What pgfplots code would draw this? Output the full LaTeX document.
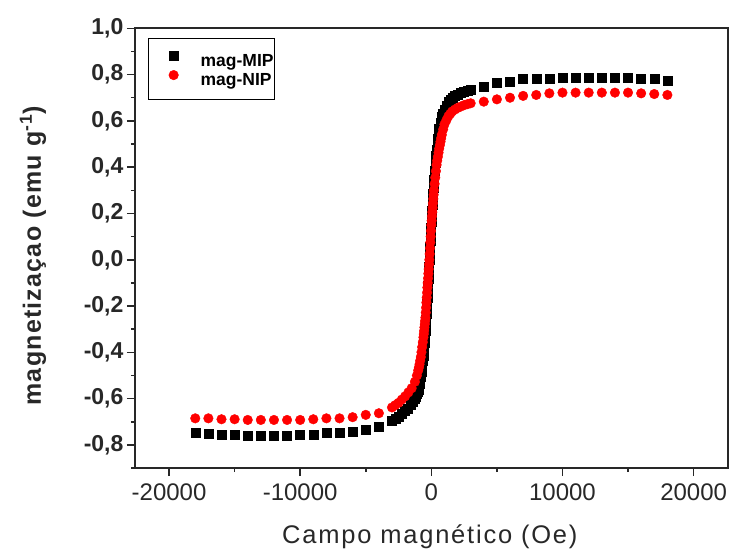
\documentclass[border=0pt]{standalone}
\usepackage{pgfplots}
\pgfplotsset{compat=1.18}
\usepackage{pgfplotstable}
\usepackage{fontspec}
\setmainfont{Liberation Sans}
\definecolor{axgray}{RGB}{40,40,40}

\pgfplotstableread{
H M
-18000 -0.749
-17000 -0.753
-16000 -0.757
-15000 -0.757
-14000 -0.761
-13000 -0.761
-12000 -0.761
-11000 -0.761
-10000 -0.757
-9000 -0.754
-8000 -0.749
-7000 -0.747
-6000 -0.743
-5000 -0.732
-4000 -0.721
-3000 -0.696
-2750 -0.687
-2500 -0.678
-2250 -0.667
-2000 -0.654
-1800 -0.642
-1600 -0.628
-1450 -0.615
-1300 -0.601
-1200 -0.590
-1100 -0.578
-1050 -0.569
-1000 -0.560
-950 -0.548
-900 -0.535
-850 -0.520
-800 -0.505
-750 -0.483
-700 -0.460
-650 -0.438
-600 -0.415
-575 -0.397
-550 -0.378
-525 -0.360
-500 -0.342
-475 -0.323
-450 -0.305
-425 -0.282
-400 -0.258
-375 -0.235
-350 -0.212
-325 -0.188
-300 -0.165
-275 -0.138
-250 -0.110
-225 -0.083
-200 -0.055
-175 -0.028
-150 0.000
-125 0.028
-100 0.055
-75 0.083
-50 0.110
-25 0.138
0 0.165
25 0.189
50 0.213
75 0.238
100 0.262
125 0.286
150 0.310
175 0.328
200 0.347
250 0.383
300 0.420
350 0.448
400 0.477
450 0.505
500 0.525
550 0.545
600 0.565
700 0.592
800 0.618
900 0.633
1000 0.650
1150 0.666
1300 0.681
1450 0.692
1600 0.702
1800 0.709
2000 0.715
2250 0.722
2500 0.728
2750 0.732
3000 0.736
4000 0.748
5000 0.765
6000 0.769
7000 0.781
8000 0.781
9000 0.781
10000 0.787
11000 0.787
12000 0.787
13000 0.787
14000 0.787
15000 0.787
16000 0.781
17000 0.781
18000 0.772
}\mip

\pgfplotstableread{
H M
-18000 -0.685
-17000 -0.685
-16000 -0.689
-15000 -0.689
-14000 -0.692
-13000 -0.692
-12000 -0.692
-11000 -0.692
-10000 -0.692
-9000 -0.689
-8000 -0.685
-7000 -0.685
-6000 -0.680
-5000 -0.670
-4000 -0.663
-3000 -0.638
-2750 -0.628
-2500 -0.618
-2250 -0.604
-2000 -0.590
-1750 -0.573
-1500 -0.555
-1250 -0.527
-1100 -0.500
-1000 -0.478
-950 -0.466
-900 -0.452
-850 -0.436
-800 -0.420
-750 -0.399
-700 -0.377
-650 -0.356
-600 -0.335
-575 -0.321
-550 -0.307
-525 -0.292
-500 -0.278
-475 -0.264
-450 -0.250
-425 -0.228
-400 -0.207
-375 -0.185
-350 -0.163
-325 -0.142
-300 -0.120
-275 -0.100
-250 -0.080
-225 -0.060
-200 -0.040
-175 -0.020
-150 0.000
-125 0.025
-100 0.050
-75 0.075
-50 0.100
-25 0.125
0 0.150
25 0.169
50 0.188
75 0.206
100 0.225
125 0.244
150 0.263
175 0.281
200 0.300
250 0.328
300 0.355
350 0.383
400 0.410
450 0.428
500 0.445
550 0.463
600 0.480
650 0.495
700 0.510
750 0.525
800 0.540
900 0.563
1000 0.585
1150 0.603
1300 0.620
1450 0.631
1600 0.641
1800 0.649
2000 0.656
2250 0.662
2500 0.668
2750 0.672
3000 0.676
4000 0.683
5000 0.693
6000 0.700
7000 0.708
8000 0.712
9000 0.719
10000 0.722
11000 0.722
12000 0.722
13000 0.722
14000 0.722
15000 0.722
16000 0.719
17000 0.716
18000 0.712
}\nip

\begin{document}
\begin{tikzpicture}
\begin{axis}[
  scale only axis,
  width=593pt, height=440pt,
  xmin=-22600, xmax=22600, ymin=-0.9, ymax=1.0,
  axis line style={line width=2pt, draw=axgray},
  tick pos=left, tick align=outside,
  xtick={-20000,-10000,0,10000,20000},
  minor xtick={-15000,-5000,5000,15000},
  ytick={-0.8,-0.6,-0.4,-0.2,0,0.2,0.4,0.6,0.8,1.0},
  minor ytick={-0.9,-0.7,-0.5,-0.3,-0.1,0.1,0.3,0.5,0.7,0.9},
  major tick length=8pt, minor tick length=4pt,
  every tick/.append style={line width=1.5pt, draw=axgray},
  scaled x ticks=false, scaled y ticks=false,
  /pgf/number format/assume math mode=true,
  xticklabel style={font=\fontsize{24}{28}\selectfont, text=axgray, yshift=-4pt, /pgf/number format/.cd, 1000 sep={}},
  yticklabel style={font=\bfseries\fontsize{23}{28}\selectfont, text=axgray, /pgf/number format/.cd, fixed, fixed zerofill, precision=1, use comma},
  xlabel={Campo magnético (Oe)},
  xlabel style={at={(axis description cs:0.4975,-0.156)}, anchor=center, text=axgray, font=\fontsize{25.5}{30}\selectfont\addfontfeature{LetterSpace=7}},
  ylabel={magnetizaçao (emu g\textsuperscript{-1})},
  ylabel style={at={(axis description cs:-0.172,0.4825)}, anchor=center, text=axgray, font=\bfseries\fontsize{25}{30}\selectfont\addfontfeature{LetterSpace=5}},
  legend style={at={(axis description cs:0.0219,0.978)}, anchor=north west, draw=black, line width=1.5pt,
    font=\bfseries\fontsize{17.5}{21}\selectfont,
    inner xsep=0pt, inner ysep=10pt, row sep=-2.1pt,
    nodes={inner sep=0pt, text height=13pt, text depth=4pt}},
  legend cell align=left,
  legend image code/.code={\path[draw=none, fill=none] (0pt,-4pt) rectangle (52pt,13pt); \draw[#1, only marks] plot coordinates {(25pt,6pt)};},
]
\addplot[only marks, mark=square*, mark size=4.5pt, color=black, mark options={fill=black, draw=black, line width=0.4pt}] table[x=H, y=M] {\mip};
\addlegendentry{mag-MIP\hspace{3pt}}
\addplot[only marks, mark=*, mark size=4.8pt, color=red, mark options={fill=red, draw=red, line width=0.4pt}] table[x=H, y=M] {\nip};
\addlegendentry{mag-NIP\hspace{3pt}\rule[-13pt]{0pt}{13pt}}
\end{axis}
\pgfresetboundingbox
\path[use as bounding box] ([xshift=-135pt,yshift=-84.7pt]current axis.south west) rectangle ([xshift=3.3pt,yshift=28.3pt]current axis.north east);
\end{tikzpicture}
\end{document}
